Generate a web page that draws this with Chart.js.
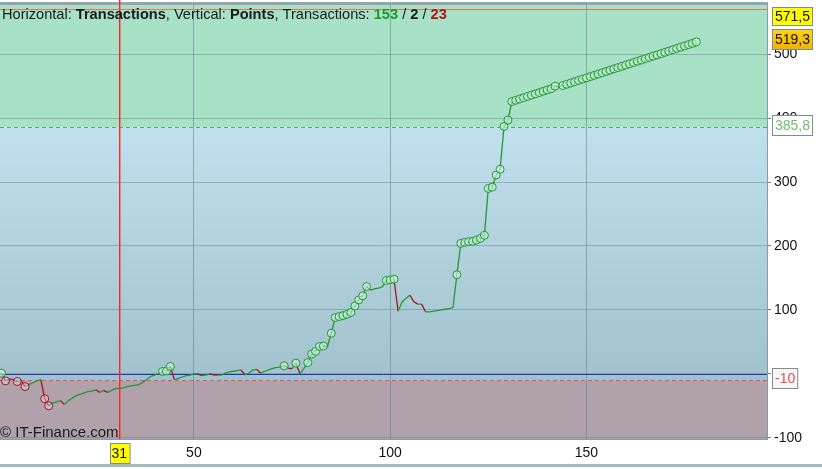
<!DOCTYPE html>
<html>
<head>
<meta charset="utf-8">
<script src="https://cdn.jsdelivr.net/npm/chart.js@4.4.1/dist/chart.umd.min.js"></script>
<style>
  body { margin: 0; background: #fff; }
  #wrap { width: 822px; height: 469px; }
</style>
</head>
<body>
<div id="wrap"><canvas id="equityChart" width="822" height="469"></canvas></div>
<script>
// cumulated points after each transaction (1..178)
const points = [
  1, -11, -8, -9, -12, -11, -20, -17, -14, -11,
  -9, -39, -50, -46, -44, -42, -48, -42, -38, -34,
  -32, -30, -28, -27, -25, -29, -26, -29, -26, -23,
  -23, -22, -20, -19, -18, -17, -13, -9, -4, -2,
  0.5, 3.6, 4.5, 11.5, -9, -7, -5, -3, -2, 0,
  0, -3, -2, 0, -1.5, -2, -2, 1, 3, 4,
  5, 6, -1.5, 1, 6, 7, 1, 4, 6, 8,
  10, 10.5, 12.5, 9, 8, 16.7, 0, 8, 17.5, 30.7,
  35, 42.7, 43.5, 42, 63.5, 88, 89.6, 91, 93, 96,
  106, 115.6, 122, 136.5, 131, 133, 134, 136, 146, 147,
  148, 98, 112, 118, 123, 113, 109, 109, 97, 97,
  98, 99, 100, 101, 102, 103.6, 155, 204, 205.7, 206.8,
  207.3, 209.4, 212, 216.7, 290, 292, 311, 320, 387, 397,
  426, 428, 430, 432, 434, 436, 438, 440, 442, 444,
  446, 450, 449, 451, 453, 455, 457, 459, 461, 463,
  465, 467, 469, 471, 473, 475, 477, 479, 481, 483,
  485, 487, 489, 491, 493, 495, 497, 499, 501, 503,
  505, 507, 509, 511, 513, 515, 517, 519.3
];
const xTicks = [50, 100, 150];
const yTicks = [-100, 0, 100, 200, 300, 400, 500];
const cursorTrade = 31;
const maxLevel = 571.5;
const highZone = 385.8;
const lowZone = -10;
const badgeValues = [571.5, 519.3, 385.8, -10];
const badgeTexts = ['571,5', '519,3', '385,8', '-10'];
const tradeCounts = ['153', '2', '23'];

const FONT = '"Liberation Sans", Arial, sans-serif';
const GREEN = '#23973a';
const RED = '#a3142a';

// new highs / new lows get a circle
const marks = [];
let hi = -Infinity, lo = Infinity;
points.forEach((v, i) => {
  if (v > hi) { marks[i] = 'hi'; hi = v; }
  else if (v < lo && i > 0) { marks[i] = 'lo'; }
  else marks[i] = null;
  if (v < lo) lo = v;
});

const zones = {
  id: 'zones',
  beforeDraw(chart) {
    const { ctx, chartArea: a, scales: { y } } = chart;
    ctx.save();
    ctx.fillStyle = '#fff';
    ctx.fillRect(0, 0, chart.width, chart.height);
    const yHigh = y.getPixelForValue(highZone), yLow = y.getPixelForValue(lowZone);
    ctx.fillStyle = '#a7e2c7';
    ctx.fillRect(a.left, a.top, a.width, yHigh - a.top);
    const g = ctx.createLinearGradient(0, yHigh, 0, yLow);
    g.addColorStop(0, '#c0e0ed');
    g.addColorStop(1, '#a1c2cc');
    ctx.fillStyle = g;
    ctx.fillRect(a.left, yHigh, a.width, yLow - yHigh);
    ctx.fillStyle = '#b0a1ab';
    ctx.fillRect(a.left, yLow, a.width, a.bottom - yLow);
    ctx.restore();
  },
  beforeDatasetsDraw(chart) {
    const { ctx, chartArea: a, scales: { y } } = chart;
    ctx.save();
    ctx.lineWidth = 1;
    const hline = (v, color, dash) => {
      const py = Math.round(y.getPixelForValue(v)) + 0.5;
      ctx.strokeStyle = color;
      ctx.setLineDash(dash);
      ctx.beginPath(); ctx.moveTo(a.left, py); ctx.lineTo(a.right, py); ctx.stroke();
    };
    hline(maxLevel, '#e86f6f', []);
    hline(highZone, '#4fae6c', [4, 3]);
    hline(lowZone, '#e05a5a', [4, 3]);
    hline(0, '#2233cc', []);
    ctx.setLineDash([]);
    // top border
    ctx.fillStyle = '#93a6ad';
    ctx.fillRect(a.left, 2, a.width + 1, 3);
    ctx.restore();
  },
  afterDraw(chart) {
    const { ctx, chartArea: a, scales: { x, y } } = chart;
    ctx.save();
    // cursor line
    const cx0 = Math.round(x.getPixelForValue(cursorTrade));
    ctx.fillStyle = '#ff2424';
    ctx.fillRect(cx0, 0, 1, a.bottom);
    ctx.fillStyle = 'rgba(255,50,50,0.45)';
    ctx.fillRect(cx0 + 1, 0, 1, a.bottom);

    // header text
    const parts = [
      ['Horizontal: ', false, '#1a1a1a'], ['Transactions', true, '#1a1a1a'],
      [', Vertical: ', false, '#1a1a1a'], ['Points', true, '#1a1a1a'],
      [', Transactions: ', false, '#1a1a1a'], [tradeCounts[0], true, '#1f9a2a'],
      [' / ', false, '#1a1a1a'], [tradeCounts[1], true, '#1a1a1a'],
      [' / ', false, '#1a1a1a'], [tradeCounts[2], true, '#b01515']
    ];
    let tx = 2;
    ctx.textBaseline = 'alphabetic';
    parts.forEach(([t, bold, c]) => {
      ctx.font = (bold ? 'bold ' : '') + '14.6px ' + FONT;
      ctx.fillStyle = c;
      ctx.fillText(t, tx, 19);
      tx += ctx.measureText(t).width;
    });
    // watermark
    ctx.font = '15px ' + FONT;
    ctx.fillStyle = '#1a1a1a';
    ctx.fillText('\u00a9 IT-Finance.com', 0, 437);

    // right badges
    const styles = [
      { fill: '#ffff00', text: '#111' },
      { fill: 'grad', text: '#111' },
      { fill: '#ffffff', text: '#6cc06c' },
      { fill: '#f6f6f6', text: '#e05050' }
    ];
    ctx.font = '14px ' + FONT;
    ctx.textBaseline = 'middle';
    badgeValues.forEach((v, i) => {
      const w = ctx.measureText(badgeTexts[i]).width + 5;
      let top = y.getPixelForValue(v) - 12.5;
      let h = 20;
      if (top < 6) { top = 6.5; h = 18; }
      top = Math.round(top) + 0.5;
      const left = 772.5;
      const s = styles[i];
      if (s.fill === 'grad') {
        const g = ctx.createLinearGradient(0, top, 0, top + h);
        g.addColorStop(0, '#ffd21a');
        g.addColorStop(1, '#f2b200');
        ctx.fillStyle = g;
      } else ctx.fillStyle = s.fill;
      ctx.fillRect(left, top, w, h);
      ctx.strokeStyle = '#7d8c92';
      ctx.strokeRect(left, top, w, h);
      ctx.fillStyle = s.text;
      ctx.textAlign = 'left';
      ctx.fillText(badgeTexts[i], left + 2.5, top + h / 2 + 1);
    });

    // cursor badge on x axis
    const cx = x.getPixelForValue(cursorTrade);
    const cw = ctx.measureText(String(cursorTrade)).width + 4;
    ctx.fillStyle = '#ffff00';
    ctx.fillRect(Math.round(cx - cw / 2) + 0.5, 443.5, cw, 20);
    ctx.strokeStyle = '#7d8c92';
    ctx.strokeRect(Math.round(cx - cw / 2) + 0.5, 443.5, cw, 20);
    ctx.fillStyle = '#111';
    ctx.textAlign = 'center';
    ctx.fillText(String(cursorTrade), cx, 454);

    // strip at the very bottom
    ctx.fillStyle = '#a3bac2';
    ctx.fillRect(0, 464, chart.width, 3);
    ctx.restore();
  }
};

const ctx = document.getElementById('equityChart').getContext('2d');
new Chart(ctx, {
  type: 'line',
  data: {
    datasets: [{
      data: points.map((v, i) => ({ x: i + 1, y: v })),
      borderWidth: 1.3,
      borderColor: GREEN,
      segment: {
        borderColor: c => c.p1.parsed.y < c.p0.parsed.y ? RED : GREEN
      },
      pointRadius: c => marks[c.dataIndex] ? 4 : 0,
      pointBorderWidth: 1,
      pointBorderColor: c => marks[c.dataIndex] === 'lo' ? RED : GREEN,
      pointBackgroundColor: c => marks[c.dataIndex] === 'lo' ? 'rgba(255,235,240,0.35)' : 'rgba(205,245,220,0.6)',
      tension: 0
    }]
  },
  options: {
    responsive: false,
    animation: false,
    devicePixelRatio: 1,
    layout: { autoPadding: false, padding: { top: 5, left: 0, right: 0, bottom: 0 } },
    plugins: { legend: { display: false }, tooltip: { enabled: false } },
    scales: {
      x: {
        type: 'linear', min: 0.6, max: 196,
        afterBuildTicks: s => { s.ticks = xTicks.map(v => ({ value: v })); },
        afterFit: s => { s.height = 30; s.paddingLeft = 0; s.paddingRight = 0; },
        grid: { color: 'rgba(110,130,140,0.6)', drawTicks: false },
        border: { display: true, color: '#8a9ca3' },
        ticks: { padding: 6, color: '#111', font: { size: 14, family: FONT }, maxRotation: 0 }
      },
      y: {
        position: 'right', min: -102, max: 577,
        afterBuildTicks: s => { s.ticks = yTicks.map(v => ({ value: v })); },
        afterFit: s => { s.width = 55; s.paddingTop = 0; s.paddingBottom = 0; },
        grid: { color: 'rgba(100,125,135,0.45)', tickLength: 4, tickColor: '#6d7d84' },
        border: { display: true, color: '#8a9ca3' },
        ticks: { padding: 3, color: '#111', font: { size: 14, family: FONT } }
      }
    }
  },
  plugins: [zones]
});
</script>
</body>
</html>
